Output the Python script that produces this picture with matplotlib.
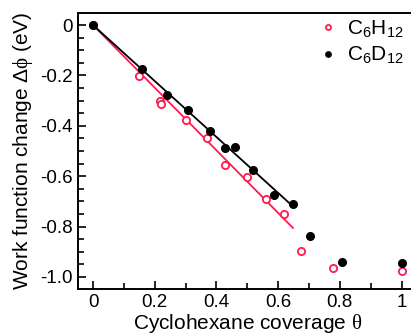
import numpy as np
import matplotlib
matplotlib.use('Agg')
import matplotlib.pyplot as plt
from matplotlib.ticker import MultipleLocator

# Coverage / work function data
h_theta = [0.0, 0.149, 0.216, 0.219, 0.30, 0.37, 0.429, 0.50, 0.56, 0.62, 0.675, 0.778, 1.0]
h_dphi = [0.0, -0.201, -0.302, -0.312, -0.376, -0.448, -0.556, -0.603, -0.69, -0.752, -0.899, -0.963, -0.975]

d_theta = [0.0, 0.16, 0.24, 0.309, 0.378, 0.429, 0.459, 0.519, 0.585, 0.649, 0.703, 0.808, 1.0]
d_dphi = [0.0, -0.176, -0.277, -0.338, -0.419, -0.49, -0.486, -0.574, -0.673, -0.71, -0.837, -0.942, -0.943]

fit_max = 0.65  # linear regime used for the fits

plt.rcParams['font.family'] = ['Liberation Sans', 'DejaVu Sans']
plt.rcParams['mathtext.fontset'] = 'custom'
plt.rcParams['mathtext.rm'] = 'Liberation Serif'
plt.rcParams['mathtext.sf'] = 'Liberation Sans'
plt.rcParams['mathtext.it'] = 'Liberation Serif:italic'

red = '#ff1a4f'

fig = plt.figure(figsize=(4.11, 3.36), dpi=100)
ax = fig.add_axes([77.6 / 411, 1 - 289 / 336, (417 - 77.6) / 411, (289 - 13) / 336])

# linear fits through origin in the low coverage regime
def origin_fit(x, y):
    x = np.asarray(x)
    y = np.asarray(y)
    m = x <= fit_max
    return np.sum(x[m] * y[m]) / np.sum(x[m] ** 2)

xf = np.array([0.0, 0.648])
ax.plot(xf, origin_fit(h_theta, h_dphi) * xf, color=red, lw=1.3, zorder=2)
ax.plot(xf, origin_fit(d_theta, d_dphi) * xf, color='black', lw=1.3, zorder=2)

ax.plot(h_theta, h_dphi, 'o', mfc='white', mec=red, mew=1.3, ms=5.2,
        label=r'$\mathsf{C_6H_{12}}$', zorder=3)
ax.plot(d_theta, d_dphi, 'o', color='black', ms=5.5,
        label=r'$\mathsf{C_6D_{12}}$', zorder=3)

ax.set_xlim(-0.05, 1.05)
ax.set_ylim(-1.048, 0.048)
ax.xaxis.set_minor_locator(MultipleLocator(0.1))
ax.yaxis.set_minor_locator(MultipleLocator(0.05))
ax.set_xticks([0, 0.2, 0.4, 0.6, 0.8, 1.0])
ax.set_xticklabels(['0', '0.2', '0.4', '0.6', '0.8', '1'])
ax.set_yticks([0, -0.2, -0.4, -0.6, -0.8, -1.0])
ax.set_yticklabels(['0', '-0.2', '-0.4', '-0.6', '-0.8', '-1.0'])
ax.tick_params(which='both', direction='in', labelsize=13.5, width=1.2)
ax.tick_params(which='major', length=6)
ax.tick_params(which='minor', length=4)
for s in ax.spines.values():
    s.set_linewidth(1.4)

ax.set_xlabel(r'Cyclohexane coverage $\mathrm{\theta}$', fontsize=15, labelpad=1)
ax.set_ylabel(r'Work function change $\mathsf{\Delta}\mathrm{\phi}$ (eV)', fontsize=15, labelpad=4)

leg = ax.legend(loc='upper right', bbox_to_anchor=(412 / 411, 1 - 10 / 336),
                bbox_transform=fig.transFigure, frameon=False, fontsize=15,
                handlelength=0.6, handletextpad=0.6, markerscale=0.7,
                labelspacing=0.25, borderaxespad=0)

fig.savefig('out.png', dpi=100)
